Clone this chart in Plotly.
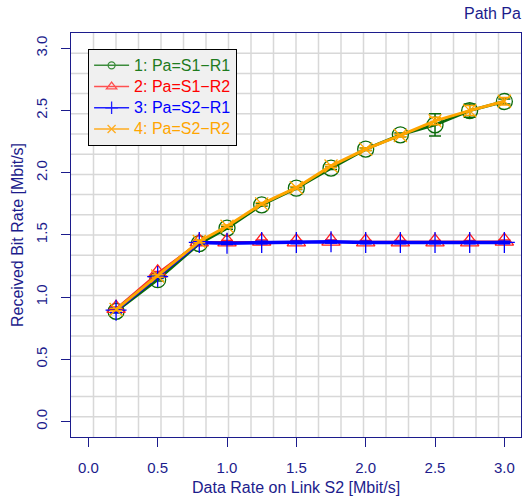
import plotly.graph_objects as go

# ---- data ----
x_rate = [0.2, 0.5, 0.8, 1.0, 1.25, 1.5, 1.75, 2.0, 2.25, 2.5, 2.75, 3.0]

s1_r1 = [0.885, 1.14, 1.43, 1.555, 1.742, 1.876, 2.037, 2.19, 2.305, 2.385, 2.50, 2.573]
s1_r1_err = [0.01, 0.01, 0.01, 0.01, 0.01, 0.01, 0.01, 0.01, 0.015, 0.09, 0.053, 0.02]

s1_r2 = [0.91, 1.195, 1.445, 1.445, 1.45, 1.445, 1.45, 1.445, 1.445, 1.445, 1.445, 1.45]
s1_r2_err = [0.01, 0.01, 0.01, 0.01, 0.01, 0.01, 0.01, 0.01, 0.01, 0.01, 0.01, 0.01]

s2_r1 = [0.895, 1.165, 1.44, 1.434, 1.44, 1.44, 1.445, 1.44, 1.44, 1.44, 1.44, 1.44]
s2_r1_err = [0.02, 0.01, 0.01, 0.01, 0.01, 0.01, 0.01, 0.01, 0.01, 0.01, 0.01, 0.01]

s2_r2 = [0.90, 1.17, 1.447, 1.57, 1.75, 1.88, 2.055, 2.19, 2.30, 2.417, 2.50, 2.575]
s2_r2_err = [0.01, 0.01, 0.01, 0.01, 0.01, 0.01, 0.01, 0.01, 0.01, 0.03, 0.04, 0.03]

names = ["1: Pa=S1\u2212R1", "2: Pa=S1\u2212R2", "3: Pa=S2\u2212R1", "4: Pa=S2\u2212R2"]
text_colors = ["#1e7b1e", "#ff0000", "#0000ff", "#ffa500"]
line_colors = ["#0a6a0a", "#ff2020", "#0000ff", "#ffa500"]
legend_line_colors = ["#3c8c3c", "#ff5050", "#2020ff", "#ffad20"]
symbols = ["circle-open", "triangle-up-open", "cross-thin-open", "x-thin-open"]
plot_sizes = [16, 16, 15, 13]
legend_sizes = [7, 9, 9, 8]
series = [s1_r1, s1_r2, s2_r1, s2_r2]
errors = [s1_r1_err, s1_r2_err, s2_r1_err, s2_r2_err]
line_widths = [3, 1.5, 3.5, 3]

NAVY = "#1c1c8c"
FONT = "Liberation Sans, Arial, sans-serif"

fig = go.Figure()

for i in range(4):
    fig.add_trace(go.Scatter(
        x=x_rate, y=series[i], mode="lines+markers",
        showlegend=False,
        line=dict(color=line_colors[i], width=line_widths[i]),
        marker=dict(symbol=symbols[i], size=plot_sizes[i],
                    color=line_colors[i],
                    line=dict(color=line_colors[i], width=1.3)),
        error_y=dict(type="data", array=errors[i], color=line_colors[i],
                     thickness=1.5, width=6),
    ))

for i in range(4):
    fig.add_trace(go.Scatter(
        x=[None], y=[None], mode="lines+markers",
        name=f"<span style='color:{text_colors[i]};font-size:16px'>{names[i]}</span>",
        line=dict(color=legend_line_colors[i], width=1.5),
        marker=dict(symbol=symbols[i], size=legend_sizes[i],
                    color=legend_line_colors[i],
                    line=dict(color=legend_line_colors[i], width=1.3)),
    ))

# grid: 20 equal divisions of the plotting area
shapes = []
for k in range(1, 20):
    f = k / 20
    shapes.append(dict(type="line", xref="x domain", yref="y domain",
                       x0=f, x1=f, y0=0, y1=1, layer="below",
                       line=dict(color="#d8d8d8", width=1.5)))
    shapes.append(dict(type="line", xref="x domain", yref="y domain",
                       x0=0, x1=1, y0=f, y1=f, layer="below",
                       line=dict(color="#d8d8d8", width=1.5)))

axis_common = dict(
    showline=True, linecolor=NAVY, linewidth=1.3, mirror=True,
    ticks="outside", ticklen=9, tickcolor=NAVY, tickwidth=1.3,
    showgrid=False, zeroline=False,
    tickfont=dict(family=FONT, size=15, color=NAVY),
    tickformat=".1f", dtick=0.5, tick0=0,
)

fig.update_layout(
    width=525, height=497,
    margin=dict(l=71, r=4, t=33, b=60),
    paper_bgcolor="white", plot_bgcolor="white",
    font=dict(family=FONT, size=15, color=NAVY),
    xaxis=dict(range=[-0.125, 3.12], ticklabelstandoff=8, **axis_common),
    yaxis=dict(range=[-0.125, 3.124], tickangle=-90, ticklabelstandoff=8, **axis_common),
    shapes=shapes,
    legend=dict(x=0.038, y=0.961, xanchor="left", yanchor="top",
                bgcolor="#f0f0f0", bordercolor="black", borderwidth=1,
                font=dict(family=FONT, size=14), tracegroupgap=0,
                itemwidth=35),
    annotations=[
        dict(text="Path Pa", xref="paper", yref="paper", x=1, y=1,
             xanchor="right", yanchor="middle", xshift=2, yshift=20,
             showarrow=False, font=dict(family=FONT, size=16, color=NAVY)),
        dict(text="Data Rate on Link S2 [Mbit/s]", xref="paper", yref="paper",
             x=0.5, y=0, xanchor="center", yanchor="middle", yshift=-50,
             showarrow=False, font=dict(family=FONT, size=16, color=NAVY)),
        dict(text="Received Bit Rate [Mbit/s]", xref="paper", yref="paper",
             x=0, y=0.5, xanchor="center", yanchor="middle", xshift=-54,
             textangle=-90, showarrow=False,
             font=dict(family=FONT, size=16, color=NAVY)),
    ],
)

fig.write_html("out.html")
